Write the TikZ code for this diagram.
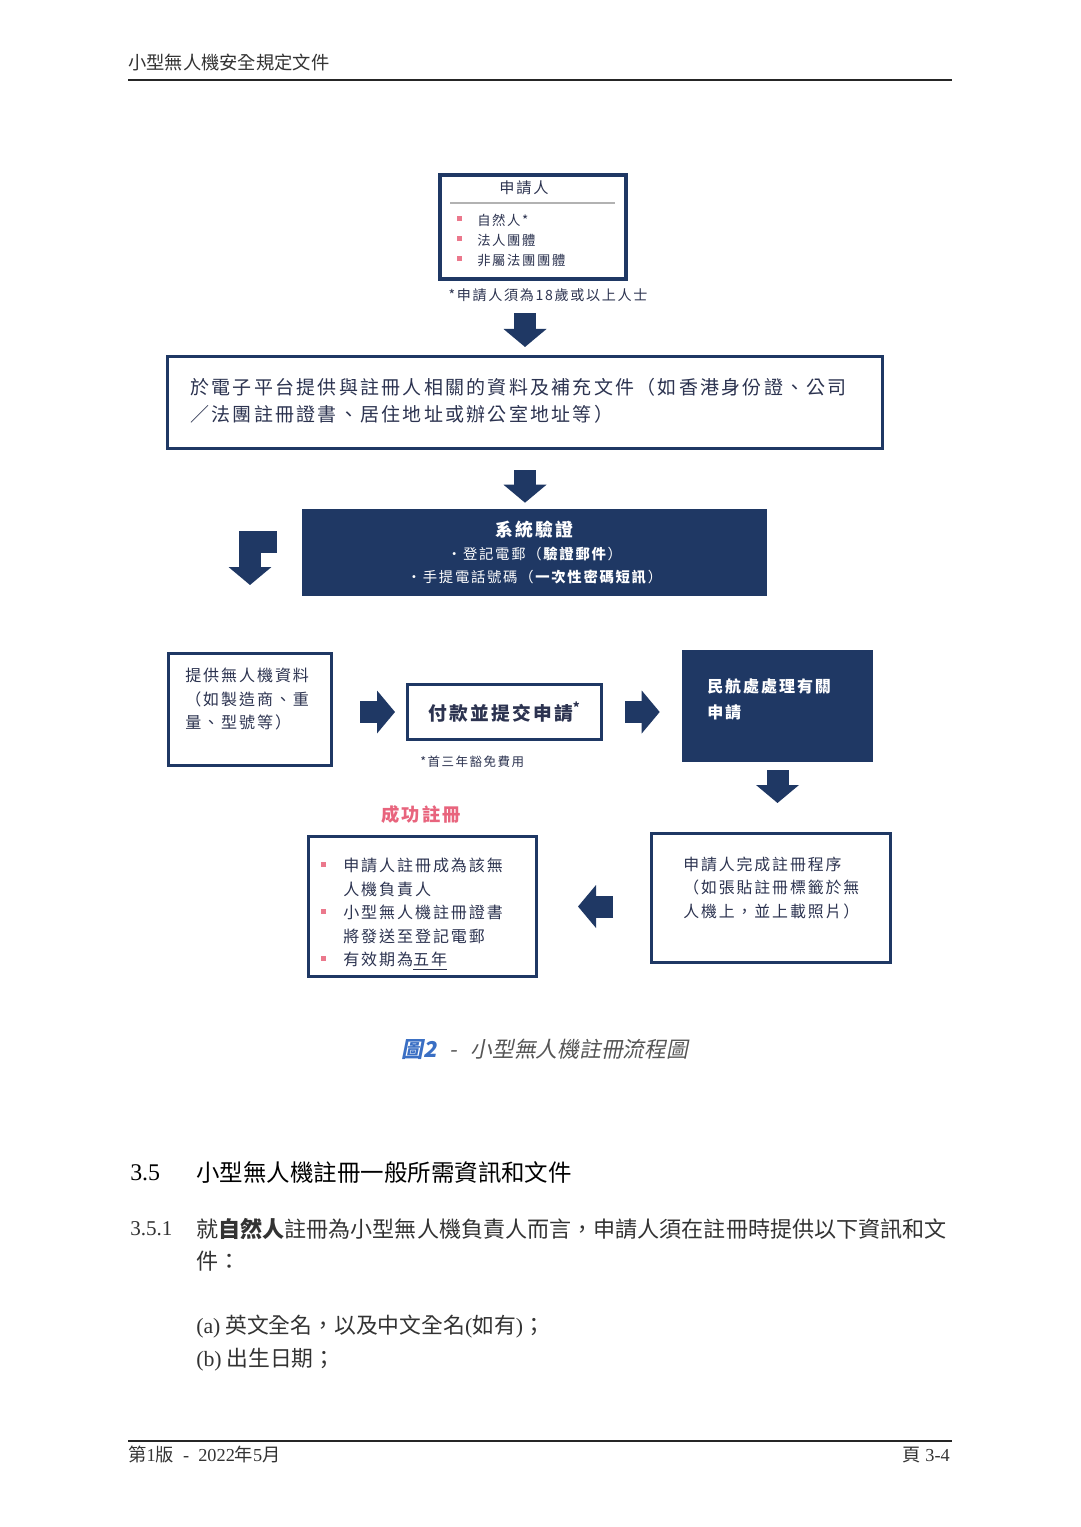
\documentclass[tikz,border=0pt]{standalone}
\usepackage{fontspec}
\setmainfont{Liberation Serif}
\newfontfamily\lat{Liberation Serif}
\newfontfamily\cjk{Noto Sans CJK TC}
\newfontfamily\kai{Noto Sans CJK TC}[LetterSpace=12]
\newfontfamily\cjkit{Noto Sans CJK TC}[FakeSlant=0.2]
\usetikzlibrary{positioning, arrows.meta, calc}
\definecolor{navy}{RGB}{31,56,100}
\definecolor{textdark}{RGB}{44,51,80}
\definecolor{bulletpink}{RGB}{235,120,140}
\definecolor{successpink}{RGB}{232,100,125}
\definecolor{capblue}{RGB}{58,111,196}
\definecolor{capgray}{RGB}{85,85,85}
\definecolor{pagegray}{RGB}{51,51,51}
\newcommand{\setfs}[2]{\fontsize{#1}{#2}\selectfont}
\newcommand{\bul}{\textcolor{bulletpink}{\rule[0.3em]{1.2mm}{1.2mm}}}
\tikzset{
  flowbox/.style={draw=navy, line width=0.75mm, inner sep=0pt},
  darkbox/.style={fill=navy, inner sep=0pt},
  boxtext/.style={inner sep=0pt, align=left, text=textdark, anchor=west},
  bigarrow/.style={draw=navy, line width=5.5mm,
    -{Triangle[length=4.5mm, width=10.5mm]}},
  pagetext/.style={inner sep=0pt, anchor=west, text=pagegray},
  pagerule/.style={line width=0.5mm, black!85},
}

\begin{document}
\begin{tikzpicture}[x=0.25mm, y=-0.25mm]
  \useasboundingbox (0,0) rectangle (1080,1527);
  \fill[white] (0,0) rectangle (1080,1527);

  % page header
  \node[pagetext, font=\cjk\setfs{13}{15}] (header) at (128,63) {小型無人機安全規定文件};
  \draw[pagerule] (128,80) -- (952,80);

  % applicant
  \node[flowbox, line width=1mm, minimum width=46.5mm, minimum height=26mm] (appl) at (533,227) {};
  \node[boxtext, anchor=center, font=\kai\setfs{10.8}{14}] (applTitle) at (524,188) {申請人};
  \draw[gray!60, line width=0.3mm] ($(appl.north west)+(12,30)$) -- ($(appl.north east)+(-13,30)$);
  \node[boxtext, font=\kai\setfs{9.5}{14.2}] (applList) at (457,240)
    {\bul\hspace{3.8mm}自然人*\\\bul\hspace{3.8mm}法人團體\\\bul\hspace{3.8mm}非屬法團團體};
  \node[boxtext, anchor=center, font=\kai\setfs{10}{12}] (applNote) at (548,295)
    {*申請人須為18歲或以上人士};

  % documents
  \node[flowbox, minimum width=178.75mm, minimum height=23mm] (doc) at (525,402.5) {};
  \node[boxtext, font=\kai\setfs{13.5}{19.2}] (docTxt) at (190,400.5)
    {於電子平台提供與註冊人相關的資料及補充文件（如香港身份證、公司\\／法團註冊證書、居住地址或辦公室地址等）};

  % system check
  \node[darkbox, minimum width=116.25mm, minimum height=21.75mm, text=white,
        align=center, font=\kai\setfs{10.2}{16.4}] (sys) at (534.5,552.5)
    {{\setfs{12.7}{16.4}\bfseries 系統驗證}\\・登記電郵（\textbf{驗證郵件}）\\・手提電話號碼（\textbf{一次性密碼短訊}）};

  % drone data, payment, CAD
  \node[flowbox, minimum width=40.75mm, minimum height=28mm] (drone) at (250,709.5) {};
  \node[boxtext, font=\kai\setfs{11.4}{16.4}] (droneTxt) at (185,699)
    {提供無人機資料\\（如製造商、重\\量、型號等）};

  \node[flowbox, minimum width=48.5mm, minimum height=13.75mm, text=textdark,
        font=\kai\setfs{13.3}{16}\bfseries] (pay) at (504.5,712) {付款並提交申請\textsuperscript{*}};
  \node[boxtext, font=\kai\setfs{8.9}{11}] (payNote) at (420,762) {*首三年豁免費用};

  \node[darkbox, minimum width=47.75mm, minimum height=28mm] (caa) at (777.5,706) {};
  \node[boxtext, text=white, font=\kai\setfs{11.4}{18.5}\bfseries] (caaTxt) at (707,699)
    {民航處處理有關\\申請};

  % registration done
  \node[flowbox, minimum width=59.75mm, minimum height=32.25mm] (reg) at (771,898) {};
  \node[boxtext, font=\kai\setfs{11.3}{16.7}] (regTxt) at (683,888)
    {申請人完成註冊程序\\（如張貼註冊標籤於無\\人機上，並上載照片）};

  \node[font=\kai\setfs{13}{15}\bfseries, text=successpink, inner sep=0pt] (successTitle) at (421,815) {成功註冊};
  \node[flowbox, minimum width=57mm, minimum height=35mm] (success) at (422.5,906.5) {};
  \node[boxtext, font=\kai\setfs{11.4}{16.7}] (successTxt) at (321,914)
    {\bul\hspace{4.3mm}申請人註冊成為該無\\\hspace*{5.5mm}人機負責人\\\bul\hspace{4.3mm}小型無人機註冊證書\\\hspace*{5.5mm}將發送至登記電郵\\\bul\hspace{4.3mm}有效期為\underline{五年}};

  % block arrows
  \draw[bigarrow, shorten <=8mm, shorten >=2mm] (doc.north |- appl.south) -- (doc.north);
  \draw[bigarrow, shorten <=5mm, shorten >=1.5mm] (doc.south) -- (doc.south |- sys.north);
  \draw[bigarrow, shorten <=6.25mm, shorten >=16.75mm] ($(sys.west)+(0,-10.5)$) -| (drone.north);
  \draw[bigarrow, shorten <=6.75mm, shorten >=2.75mm] (drone.east |- pay.west) -- (pay.west);
  \draw[bigarrow, shorten <=5.5mm, shorten >=5.5mm] (pay.east) -- (pay.east -| caa.west);
  \draw[bigarrow, shorten <=2mm, shorten >=7.25mm] (caa.south) -- (caa.south |- reg.north);
  \draw[bigarrow, shorten <=9.25mm, shorten >=10mm] (reg.west |- success.east) -- (success.east);

  % caption
  \node[inner sep=0pt, font=\setfs{15.5}{18}] (caption) at (545,1049)
    {{\cjkit\bfseries\color{capblue}圖2}\hspace{0.6em}{\cjkit\color{capgray}-\hspace{0.6em}小型無人機註冊流程圖}};

  % section text
  \node[pagetext, text=black, font=\lat\setfs{17}{20}] (secNum) at (130,1173) {3.5};
  \node[pagetext, text=black, font=\cjk\setfs{16.7}{20}] (secTitle) at (196,1173) {小型無人機註冊一般所需資訊和文件};
  \node[pagetext, font=\lat\setfs{15}{18}] (paraNum) at (130,1229) {3.5.1};
  \node[pagetext, align=left, font=\cjk\setfs{15.7}{22.8}] (paraTxt) at (196,1245)
    {就\textbf{自然人}註冊為小型無人機負責人而言，申請人須在註冊時提供以下資訊和文\\件：};
  \node[pagetext, align=left, font=\cjk\setfs{15.5}{23.5}] (items) at (196,1343.5)
    {{\lat (a)} 英文全名，以及中文全名{\lat (}如有{\lat )}；\\{\lat (b)} 出生日期；};

  % page footer
  \draw[pagerule] (128,1441) -- (952,1441);
  \node[pagetext, font=\lat\setfs{13}{15}] (footL) at (128,1455)
    {{\cjk 第}1{\cjk 版}\hspace{0.5em}-\hspace{0.5em}2022{\cjk 年}5{\cjk 月}};
  \node[pagetext, anchor=east, font=\lat\setfs{13}{15}] (footR) at (950,1455) {{\cjk 頁} 3-4};
\end{tikzpicture}
\end{document}
